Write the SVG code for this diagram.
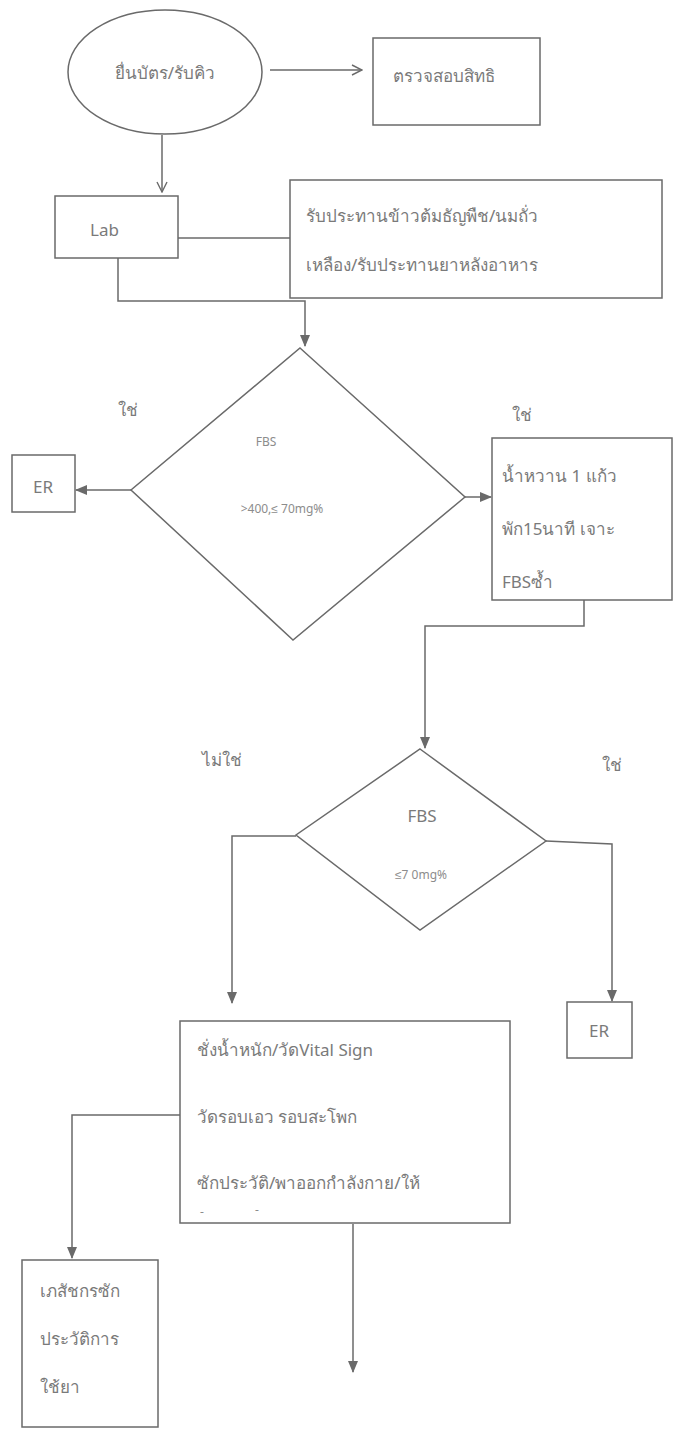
<svg xmlns="http://www.w3.org/2000/svg" width="674" height="1431" viewBox="0 0 674 1431">
<defs>
<style>
.n{fill:#fff;stroke:#6a6a6a;stroke-width:1.5}
.c{fill:none;stroke:#6a6a6a;stroke-width:1.5}
.t{font-family:"Noto Sans","Liberation Sans",sans-serif;fill:#7a7a7a;font-size:17px}
.s{font-family:"Noto Sans","Liberation Sans",sans-serif;fill:#8c8c8c;font-size:12px}
.m{text-anchor:middle}
</style>
<marker id="open" viewBox="0 0 12 12" refX="11" refY="6" markerWidth="12" markerHeight="12" markerUnits="userSpaceOnUse" orient="auto">
<path d="M1,1 L11,6 L1,11" fill="none" stroke="#6a6a6a" stroke-width="1.4"/>
</marker>
<marker id="fill" viewBox="0 0 12 10" refX="11" refY="5" markerWidth="12" markerHeight="10" markerUnits="userSpaceOnUse" orient="auto">
<path d="M0,0 L12,5 L0,10 Z" fill="#6a6a6a"/>
</marker>
</defs>
<rect width="674" height="1431" fill="#fff"/>

<g id="connectors">
<path class="c" d="M270,70 L362,70" marker-end="url(#open)"/>
<path class="c" d="M162,135 L162,192" marker-end="url(#open)"/>
<path class="c" d="M178,238 L290,238"/>
<path class="c" d="M118,258 L118,301 L305,301 L305,346" marker-end="url(#fill)"/>
<path class="c" d="M131,490 L76,490" marker-end="url(#fill)"/>
<path class="c" d="M465,497 L491,497" marker-end="url(#fill)"/>
<path class="c" d="M584,600 L584,626 L425,626 L425,748" marker-end="url(#fill)"/>
<path class="c" d="M296,836 L232,836 L232,1003" marker-end="url(#fill)"/>
<path class="c" d="M546,841 L612,844 L612,1001" marker-end="url(#fill)"/>
<path class="c" d="M180,1115 L72,1115 L72,1258" marker-end="url(#fill)"/>
<path class="c" d="M353,1224 L353,1372" marker-end="url(#fill)"/>
</g>

<g id="start">
<ellipse class="n" cx="165" cy="72" rx="97" ry="62"/>
<text class="t m" x="165" y="79" font-size="23">ยื่นบัตร/รับคิว</text>
</g>
<g id="check">
<rect class="n" x="373" y="38" width="167" height="87"/>
<text class="t" x="393" y="82" font-size="21">ตรวจสอบสิทธิ</text>
</g>
<g id="lab">
<rect class="n" x="55" y="196" width="123" height="62"/>
<text class="t" x="90" y="236" font-size="22">Lab</text>
</g>
<g id="meal">
<rect class="n" x="290" y="180" width="372" height="118"/>
<text class="t" x="306" y="222" font-size="21">รับประทานข้าวต้มธัญพืช/นมถั่ว</text>
<text class="t" x="306" y="271" font-size="22">เหลือง/รับประทานยาหลังอาหาร</text>
</g>
<g id="decision1">
<polygon class="n" points="300,348 465,497 293,640 131,490"/>
<text class="s m" x="266" y="446" font-size="14">FBS</text>
<text class="s m" x="282" y="513" font-size="15">&gt;400,≤ 70mg%</text>
</g>
<g id="label-yes1">
<text class="t m" x="128" y="416" font-size="18">ใช่</text>
</g>
<g id="label-yes2">
<text class="t m" x="522" y="421" font-size="18">ใช่</text>
</g>
<g id="er1">
<rect class="n" x="12" y="455" width="63" height="57"/>
<text class="t m" x="43" y="493" font-size="20">ER</text>
</g>
<g id="sweet">
<rect class="n" x="492" y="438" width="180" height="162"/>
<text class="t" x="502" y="482" font-size="23">น้ำหวาน 1 แก้ว</text>
<text class="t" x="502" y="535" font-size="23">พัก15นาที เจาะ</text>
<text class="t" x="502" y="588" font-size="23">FBSซ้ำ</text>
</g>
<g id="decision2">
<polygon class="n" points="420,749 546,841 420,930 296,835"/>
<text class="t m" x="422" y="822" font-size="20">FBS</text>
<text class="s m" x="421" y="879" font-size="16">≤7 0mg%</text>
</g>
<g id="label-no">
<text class="t m" x="222" y="766" font-size="18">ไม่ใช่</text>
</g>
<g id="label-yes3">
<text class="t m" x="612" y="771" font-size="18">ใช่</text>
</g>
<g id="er2">
<rect class="n" x="567" y="1002" width="65" height="56"/>
<text class="t m" x="599" y="1037" font-size="20">ER</text>
</g>
<g id="vitals">
<rect class="n" x="180" y="1021" width="330" height="202"/>
<text class="t" x="197" y="1056" font-size="17">ชั่งน้ำหนัก/วัดVital Sign</text>
<text class="t" x="197" y="1123" font-size="17">วัดรอบเอว รอบสะโพก</text>
<text class="t" x="197" y="1189" font-size="17">ซักประวัติ/พาออกกำลังกาย/ให้</text>
<text class="s" x="200" y="1216" font-size="8">-</text>
<text class="s" x="255" y="1214" font-size="8">-</text>
</g>
<g id="pharmacist">
<rect class="n" x="22" y="1260" width="136" height="167"/>
<text class="t" x="40" y="1297" font-size="19.5">เภสัชกรซัก</text>
<text class="t" x="40" y="1345" font-size="19.5">ประวัติการ</text>
<text class="t" x="40" y="1393" font-size="19.5">ใช้ยา</text>
</g>
</svg>
